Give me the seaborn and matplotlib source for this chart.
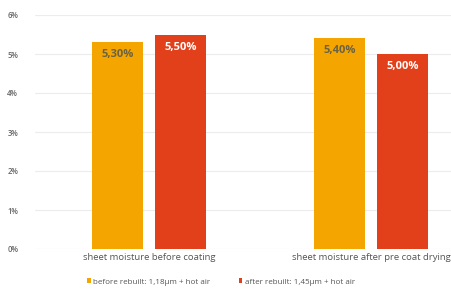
import matplotlib
matplotlib.use("Agg")
import matplotlib.pyplot as plt
import seaborn as sns
import pandas as pd
from matplotlib.ticker import FuncFormatter

categories = ["sheet moisture before coating", "sheet moisture after pre coat drying"]
series_names = ["before rebuilt: 1,18µm + hot air", "after rebuilt: 1,45µm + hot air"]
before_vals = [5.30, 5.40]
after_vals = [5.50, 5.00]
colors = ["#F5A500", "#E2401A"]
label_colors = ["#6b6340", "#ffffff"]

df = pd.DataFrame({
    "category": categories * 2,
    "series": [series_names[0]] * 2 + [series_names[1]] * 2,
    "value": before_vals + after_vals,
})

sns.set_theme(style="white")
plt.rcParams["font.family"] = ["Open Sans", "DejaVu Sans"]

fig = plt.figure(figsize=(4.52, 2.94), dpi=100)
ax = fig.add_axes([35 / 452, 45 / 294, 1 - 35 / 452, (279 - 45) / 294])

sns.barplot(data=df, x="category", y="value", hue="series", order=categories,
            hue_order=series_names, palette=colors, width=0.568, gap=0.19,
            saturation=1, linewidth=0, edgecolor="none", ax=ax, legend=True)

ax.set_xlim(-0.514, 1.365)
ax.set_ylim(0, 6)
ax.set_yticks(range(0, 7))
ax.yaxis.set_major_formatter(FuncFormatter(lambda v, p: f"{int(v)}%"))
ax.grid(axis="y", color="#ececec", linewidth=0.8)
ax.set_axisbelow(True)
for s in ax.spines.values():
    s.set_visible(False)
ax.set_xlabel("")
ax.set_ylabel("")
ax.tick_params(axis="y", labelsize=5.5, colors="#666666", length=0, pad=12)
ax.tick_params(axis="x", labelsize=6.8, colors="#555555", length=0, pad=3)
for t in ax.get_yticklabels():
    t.set_fontweight("semibold")

for i, cont in enumerate(ax.containers):
    labels = [f"{v:.2f}%".replace(".", ",") for v in cont.datavalues]
    ax.bar_label(cont, labels=labels, label_type="edge", padding=-13,
                 fontsize=8, fontweight="bold", color=label_colors[i])

leg = ax.legend(loc="upper center", bbox_to_anchor=(0.446, -0.095), ncol=2,
                frameon=False, fontsize=5.8, handlelength=0.45, handleheight=0.45,
                handletextpad=0.3, columnspacing=3.5)
for t in leg.get_texts():
    t.set_color("#555555")

fig.savefig("out.png", dpi=100)
